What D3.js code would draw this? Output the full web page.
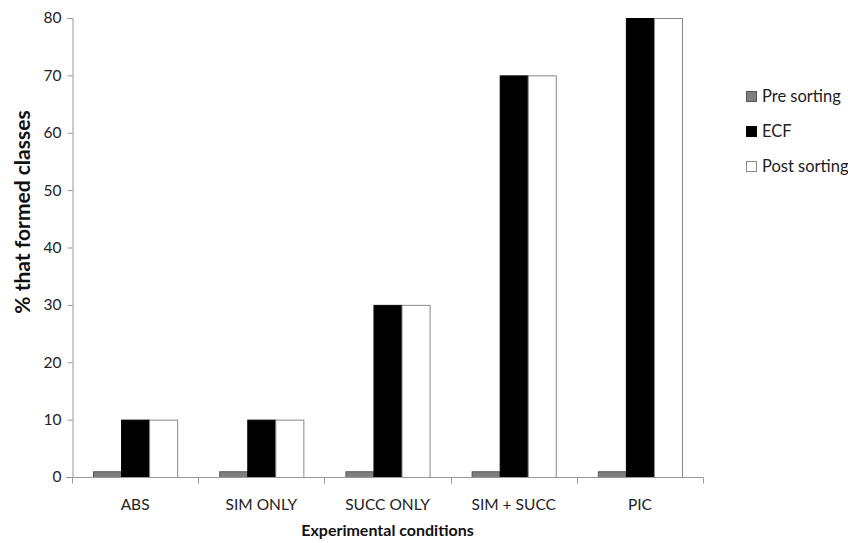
<!DOCTYPE html>
<html>
<head>
<style>
  body { margin: 0; background: #fff; }
  svg text { font-family: Lato, "Open Sans", sans-serif; fill: #222; }
</style>
</head>
<body>
<div id="chart"></div>
<script src="https://cdn.jsdelivr.net/npm/d3@7"></script>
<script>
// chart data
const categories = ["ABS", "SIM ONLY", "SUCC ONLY", "SIM + SUCC", "PIC"];
const seriesNames = ["Pre sorting", "ECF", "Post sorting"];
const preSorting = [1, 1, 1, 1, 1];
const ecf = [10, 10, 30, 70, 80];
const postSorting = [10, 10, 30, 70, 80];
const yTicks = [0, 10, 20, 30, 40, 50, 60, 70, 80];

const fills = ["#7f7f7f", "#000000", "#ffffff"];
const strokes = ["#555", "#000", "#888"];

const width = 848, height = 543;
const margin = {top: 18, left: 72, right: 145, bottom: 66};

const svg = d3.select("#chart").append("svg")
  .attr("width", width).attr("height", height);

const x = d3.scaleBand().domain(categories)
  .range([margin.left, width - margin.right]);
const y = d3.scaleLinear().domain([0, 80])
  .range([height - margin.bottom, margin.top]);

const bw = x.bandwidth() / 4.5;
const xs = d3.scaleBand().domain(seriesNames)
  .range([(x.bandwidth() - 3 * bw) / 2, (x.bandwidth() + 3 * bw) / 2]);

const rows = categories.map((c, i) => ({
  cat: c,
  vals: [preSorting[i], ecf[i], postSorting[i]]
}));

// bars
const groups = svg.append("g").selectAll("g").data(rows).join("g")
  .attr("transform", d => `translate(${x(d.cat)},0)`);
groups.selectAll("rect")
  .data(d => d.vals.map((v, k) => ({v, k})))
  .join("rect")
  .attr("x", d => xs(seriesNames[d.k]) + 0.5)
  .attr("y", d => y(d.v) + 0.5)
  .attr("width", xs.bandwidth())
  .attr("height", d => y(0) - y(d.v))
  .attr("fill", d => fills[d.k])
  .attr("stroke", d => strokes[d.k])
  .attr("stroke-width", 1);

// y axis
const yAxis = svg.append("g")
  .attr("transform", `translate(${margin.left + 0.5},0)`)
  .call(d3.axisLeft(y).tickValues(yTicks).tickSize(5).tickPadding(6));
yAxis.select(".domain").attr("stroke", "#999");
yAxis.selectAll(".tick line").attr("stroke", "#999");
yAxis.selectAll(".tick text").style("font-size", "15.5px").attr("fill", "#222");

// x axis
const xAxis = svg.append("g")
  .attr("transform", `translate(0,${y(0) + 0.5})`)
  .call(d3.axisBottom(x).tickSize(0).tickPadding(21));
xAxis.select(".domain").attr("d", `M${margin.left - 6},0H${width - margin.right}`)
  .attr("stroke", "#999");
xAxis.selectAll(".tick text").style("font-size", "15.5px").attr("fill", "#222");
const bounds = [...categories.map(c => x(c)), x(categories[categories.length - 1]) + x.bandwidth()];
xAxis.selectAll(".sep").data(bounds).join("line")
  .attr("x1", d => Math.round(d) + 0.5).attr("x2", d => Math.round(d) + 0.5)
  .attr("y1", 0).attr("y2", 6).attr("stroke", "#999");

// axis titles
svg.append("text")
  .attr("x", (margin.left + width - margin.right) / 2).attr("y", 536)
  .attr("text-anchor", "middle")
  .style("font-size", "16px").style("font-weight", "bold").style("fill", "#111")
  .text("Experimental conditions");
svg.append("text")
  .attr("transform", "translate(30,212) rotate(-90)")
  .attr("text-anchor", "middle")
  .style("font-size", "21px").style("font-weight", "bold").style("fill", "#111")
  .text("% that formed classes");

// legend
const legend = svg.append("g").selectAll("g").data(seriesNames).join("g")
  .attr("transform", (d, i) => `translate(746,${96 + i * 35})`);
legend.append("rect")
  .attr("x", 0.5).attr("y", -4.5).attr("width", 10).attr("height", 10)
  .attr("fill", (d, i) => fills[i]).attr("stroke", (d, i) => strokes[i]);
legend.append("text")
  .attr("x", 16).attr("y", 6)
  .style("font-size", "16.5px")
  .text(d => d);
</script>
</body>
</html>
